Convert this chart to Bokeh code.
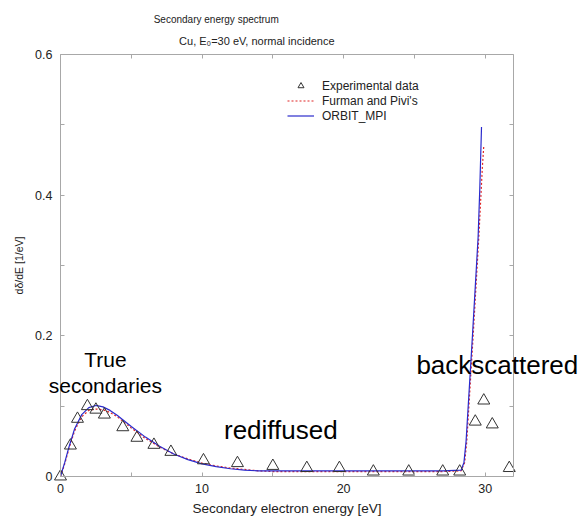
from bokeh.plotting import figure
from bokeh.models import Range1d, FixedTicker, LinearAxis, Label, Legend, LegendItem
from bokeh.embed import file_html
from bokeh.resources import INLINE

# ---- data ----
exp_E = [0.0, 0.7, 1.2, 1.9, 2.5, 3.1, 4.4, 5.4, 6.6, 7.8, 10.1, 12.5, 15.0,
         17.4, 19.7, 22.1, 24.6, 27.0, 28.2, 29.3, 29.9, 30.5, 31.7]
exp_val = [0.0, 0.044, 0.082, 0.100, 0.095, 0.088, 0.070, 0.055, 0.045, 0.035,
           0.023, 0.019, 0.015, 0.012, 0.012, 0.007, 0.007, 0.007, 0.007,
           0.078, 0.108, 0.074, 0.012]

furman_E = [0, 0.3, 0.6, 1.0, 1.5, 2.0, 2.5, 3.0, 3.5, 4.0, 5.0, 6.0, 7.0, 8.0,
            9.0, 10.0, 11.0, 12.0, 13.0, 14.0, 15.0, 17.0, 19.0, 21.0, 23.0,
            25.0, 27.0, 28.3, 28.55, 28.7, 28.85, 29.0, 29.15, 29.35, 29.55,
            29.7, 29.8, 29.9]
furman_val = [0, 0.018, 0.040, 0.065, 0.085, 0.094, 0.096, 0.095, 0.091, 0.085,
              0.069, 0.054, 0.042, 0.032, 0.025, 0.019, 0.015, 0.012, 0.010,
              0.008, 0.007, 0.007, 0.007, 0.007, 0.007, 0.007, 0.007, 0.008,
              0.02, 0.05, 0.10, 0.15, 0.20, 0.27, 0.34, 0.40, 0.44, 0.47]

orbit_E = [0, 0.3, 0.6, 1.0, 1.5, 2.0, 2.5, 3.0, 3.5, 4.0, 5.0, 6.0, 7.0, 8.0,
           9.0, 10.0, 11.0, 12.0, 13.0, 14.0, 15.0, 17.0, 19.0, 21.0, 23.0,
           25.0, 27.0, 28.3, 28.5, 28.65, 28.8, 28.95, 29.1, 29.3, 29.5,
           29.62, 29.74]
orbit_val = [0, 0.020, 0.042, 0.068, 0.088, 0.098, 0.101, 0.099, 0.094, 0.087,
             0.071, 0.056, 0.043, 0.032, 0.024, 0.018, 0.014, 0.011, 0.009,
             0.008, 0.008, 0.008, 0.008, 0.008, 0.008, 0.008, 0.008, 0.009,
             0.02, 0.05, 0.10, 0.15, 0.20, 0.27, 0.34, 0.41, 0.497]

x_major = [0, 10, 20, 30]
x_minor = [5, 15, 25]
x_labels = ["0", "10", "20", "30"]
y_major = [0, 0.2, 0.4, 0.6]
y_minor = [0.1, 0.3, 0.5]
y_labels = ["0", "0.2", "0.4", "0.6"]
x_lim = (0, 32)
y_lim = (0, 0.6)

# ---- layout: plot box inside the 579x519 canvas (pixels) ----
W, H = 579, 519
BOX_L, BOX_R, BOX_T, BOX_B = 60, 513, 54, 476
sx = (BOX_R - BOX_L) / (x_lim[1] - x_lim[0])
sy = (BOX_B - BOX_T) / (y_lim[1] - y_lim[0])
x_range = Range1d(x_lim[0] - BOX_L / sx, x_lim[1] + (W - BOX_R) / sx)
y_range = Range1d(y_lim[0] - (H - BOX_B) / sy, y_lim[1] + BOX_T / sy)

FONT = "Liberation Sans"
AX = "#a8a8a8"
TXT = "#222222"

p = figure(width=W, height=H, output_backend="svg", toolbar_location=None,
           title=None, x_range=x_range, y_range=y_range,
           min_border=0, min_border_left=0, min_border_right=0,
           min_border_top=0, min_border_bottom=0)
p.grid.visible = False
p.outline_line_color = None
p.background_fill_color = "white"
p.border_fill_color = "white"

def style(ax):
    ax.axis_line_color = AX
    ax.major_tick_line_color = AX
    ax.minor_tick_line_color = AX
    ax.major_tick_in = 4
    ax.major_tick_out = 0
    ax.minor_tick_in = 4
    ax.minor_tick_out = 0
    ax.major_label_text_font = FONT
    ax.major_label_text_color = TXT
    ax.axis_label_text_font = FONT
    ax.axis_label_text_font_style = "normal"
    ax.axis_label_text_color = TXT

xa = p.xaxis[0]
xa.ticker = FixedTicker(ticks=x_major, minor_ticks=x_minor)
xa.major_label_overrides = {t: s for t, s in zip(x_major, x_labels)}
style(xa)
xa.fixed_location = y_lim[0]
xa.bounds = x_lim
xa.major_label_text_font_size = "12.5px"
xa.major_label_standoff = 7
xa.axis_label = "Secondary electron energy [eV]"
xa.axis_label_text_font_size = "13.5px"
xa.axis_label_standoff = 5

ya = p.yaxis[0]
ya.ticker = FixedTicker(ticks=y_major, minor_ticks=y_minor)
ya.major_label_overrides = {t: s for t, s in zip(y_major, y_labels)}
style(ya)
ya.fixed_location = x_lim[0]
ya.bounds = y_lim
ya.major_label_text_font_size = "12.5px"
ya.major_label_standoff = 8
ya.axis_label = "dδ/dE [1/eV]"
ya.axis_label_text_font_size = "10.5px"
ya.axis_label_standoff = 7

top = LinearAxis(ticker=FixedTicker(ticks=[], minor_ticks=x_major + x_minor),
                 fixed_location=y_lim[1], bounds=x_lim)
style(top)
p.add_layout(top, "above")
right = LinearAxis(ticker=FixedTicker(ticks=[], minor_ticks=y_major + y_minor),
                   fixed_location=x_lim[1], bounds=y_lim)
style(right)
p.add_layout(right, "right")

r_fur = p.line(furman_E, furman_val, line_color="#e02424", line_width=1.2,
               line_dash="2 2")
r_orb = p.line(orbit_E, orbit_val, line_color="#2a2acc", line_width=1.2)
r_exp = p.scatter(exp_E, exp_val, marker="triangle", size=12,
                  fill_color=None, line_color="#333333", line_width=1)

legend = Legend(items=[LegendItem(label="Experimental data", renderers=[r_exp]),
                       LegendItem(label="Furman and Pivi's", renderers=[r_fur]),
                       LegendItem(label="ORBIT_MPI", renderers=[r_orb])],
                location=(287, H - 123), padding=0, margin=0, spacing=0,
                glyph_height=15, label_height=15, glyph_width=27,
                label_standoff=8, background_fill_alpha=0,
                border_line_alpha=0, label_text_font=FONT,
                label_text_font_size="12px", label_text_color=TXT)
p.add_layout(legend)

def lab(x, y, txt, size, align="left", color="black"):
    p.add_layout(Label(x=x, y=y, text=txt, text_font=FONT,
                       text_font_size=size, text_align=align,
                       text_baseline="alphabetic", text_color=color))

lab(3.17, 0.1664, "True", "21px", "center")
lab(3.17, 0.129, "secondaries", "21px", "center")
lab(11.55, 0.0668, "rediffused", "26px")
lab(25.14, 0.158, "backscattered", "26px")
lab(11.0, 0.6498, "Secondary energy spectrum", "10px", "center", TXT)
lab(13.87, 0.6185, "Cu, E₀=30 eV, normal incidence", "11px", "center", TXT)

open("out.html", "w").write(file_html(p, INLINE))
